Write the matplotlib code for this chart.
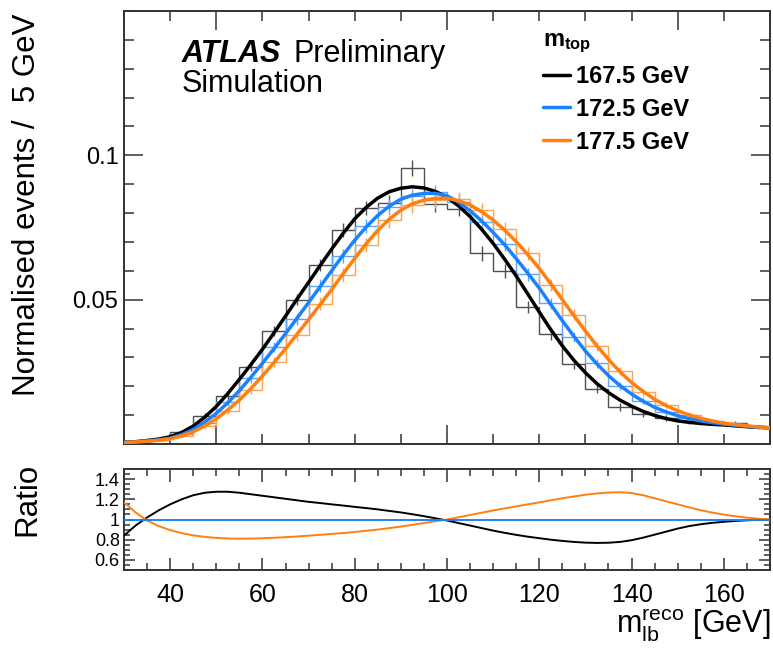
import numpy as np
import matplotlib
matplotlib.use("Agg")
import matplotlib.pyplot as plt
from matplotlib.ticker import MultipleLocator, FixedLocator

plt.rcParams['font.family'] = ['Liberation Sans', 'DejaVu Sans']
plt.rcParams['mathtext.fontset'] = 'custom'
plt.rcParams['mathtext.rm'] = 'Liberation Sans'
plt.rcParams['mathtext.it'] = 'Liberation Sans'
plt.rcParams['mathtext.bf'] = 'Liberation Sans:bold'
plt.rcParams['mathtext.default'] = 'regular'

# ---------------- data ----------------
mtop_labels = ["167.5 GeV", "172.5 GeV", "177.5 GeV"]
colors = ["#000000", "#1a82ff", "#ff7f10"]
hist_colors = ["#505050", "#5aa6ff", "#ffa24d"]

bin_edges = np.arange(30, 171, 5)
bin_centers = bin_edges[:-1] + 2.5

hist_1675 = [0.0008, 0.0017, 0.0041, 0.0098, 0.0165, 0.0268, 0.0392, 0.0500, 0.0620, 0.0740,
             0.0818, 0.0835, 0.0957, 0.0830, 0.0815, 0.0660, 0.0600, 0.0475, 0.0380, 0.0278,
             0.0192, 0.0128, 0.0104, 0.0090, 0.0078, 0.0073, 0.0072, 0.0060]
hist_1725 = [0.0007, 0.0014, 0.0033, 0.0074, 0.0145, 0.0228, 0.0335, 0.0432, 0.0548, 0.0650,
             0.0755, 0.0822, 0.0858, 0.0872, 0.0840, 0.0770, 0.0694, 0.0588, 0.0487, 0.0370,
             0.0280, 0.0200, 0.0150, 0.0110, 0.0089, 0.0074, 0.0066, 0.0058]
hist_1775 = [0.0007, 0.0013, 0.0026, 0.0062, 0.0115, 0.0188, 0.0285, 0.0376, 0.0486, 0.0585,
             0.0690, 0.0775, 0.0828, 0.0845, 0.0848, 0.0810, 0.0745, 0.0660, 0.0550, 0.0448,
             0.0338, 0.0252, 0.0180, 0.0135, 0.0100, 0.0080, 0.0068, 0.0060]
hist_err = [0.0003, 0.0004, 0.0006, 0.0009, 0.0012, 0.0015, 0.0018, 0.0020, 0.0022, 0.0024,
            0.0025, 0.0026, 0.0027, 0.0026, 0.0026, 0.0025, 0.0024, 0.0022, 0.0020, 0.0018,
            0.0016, 0.0014, 0.0012, 0.0010, 0.0009, 0.0008, 0.0008, 0.0007]

fit_x = np.arange(30, 170.01, 2.5)
fit_1675 = [0.0006, 0.0008, 0.0012, 0.0017, 0.0025, 0.0040, 0.0062, 0.0093, 0.0130, 0.0175,
            0.0224, 0.0275, 0.0328, 0.0385, 0.0443, 0.0502, 0.0560, 0.0618, 0.0675, 0.0730,
            0.0780, 0.0820, 0.0852, 0.0874, 0.0886, 0.0891, 0.0887, 0.0875, 0.0855, 0.0825,
            0.0788, 0.0744, 0.0695, 0.0640, 0.0582, 0.0520, 0.0457, 0.0396, 0.0340, 0.0290,
            0.0247, 0.0209, 0.0178, 0.0152, 0.0131, 0.0113, 0.0099, 0.0088, 0.0080, 0.0075,
            0.0071, 0.0068, 0.0066, 0.0063, 0.0060, 0.0058, 0.0056]
fit_1725 = [0.0006, 0.0007, 0.0010, 0.0014, 0.0020, 0.0032, 0.0050, 0.0076, 0.0106, 0.0143,
            0.0185, 0.0231, 0.0280, 0.0330, 0.0382, 0.0436, 0.0490, 0.0545, 0.0600, 0.0655,
            0.0706, 0.0752, 0.0792, 0.0824, 0.0848, 0.0862, 0.0868, 0.0868, 0.0860, 0.0838,
            0.0808, 0.0773, 0.0733, 0.0690, 0.0642, 0.0592, 0.0540, 0.0483, 0.0427, 0.0373,
            0.0322, 0.0277, 0.0237, 0.0202, 0.0173, 0.0148, 0.0127, 0.0111, 0.0098, 0.0088,
            0.0080, 0.0074, 0.0069, 0.0065, 0.0061, 0.0058, 0.0056]
fit_1775 = [0.0005, 0.0007, 0.0010, 0.0013, 0.0018, 0.0028, 0.0042, 0.0063, 0.0087, 0.0118,
            0.0152, 0.0192, 0.0236, 0.0282, 0.0330, 0.0380, 0.0431, 0.0483, 0.0535, 0.0590,
            0.0643, 0.0694, 0.0740, 0.0779, 0.0810, 0.0832, 0.0845, 0.0851, 0.0851, 0.0843,
            0.0828, 0.0805, 0.0776, 0.0741, 0.0701, 0.0656, 0.0608, 0.0555, 0.0500, 0.0445,
            0.0391, 0.0340, 0.0293, 0.0250, 0.0213, 0.0182, 0.0155, 0.0133, 0.0115, 0.0101,
            0.0089, 0.0080, 0.0072, 0.0067, 0.0063, 0.0059, 0.0056]

ratio_x = np.arange(30, 170.01, 2.5)
ratio_1675 = [0.84, 0.94, 1.02, 1.09, 1.15, 1.20, 1.24, 1.265, 1.275, 1.275,
              1.265, 1.25, 1.235, 1.22, 1.205, 1.19, 1.175, 1.163, 1.15, 1.138,
              1.125, 1.113, 1.10, 1.085, 1.07, 1.052, 1.033, 1.012, 0.99, 0.965,
              0.94, 0.915, 0.89, 0.868, 0.848, 0.83, 0.815, 0.80, 0.788, 0.778,
              0.771, 0.768, 0.77, 0.778, 0.795, 0.82, 0.85, 0.88, 0.91, 0.935,
              0.953, 0.967, 0.977, 0.986, 0.992, 0.997, 1.0]
ratio_1725 = [1.0] * 57
ratio_1775 = [1.17, 1.07, 0.99, 0.935, 0.895, 0.865, 0.843, 0.828, 0.818, 0.812,
              0.81, 0.811, 0.814, 0.819, 0.825, 0.832, 0.84, 0.848, 0.857, 0.866,
              0.876, 0.888, 0.90, 0.915, 0.93, 0.947, 0.965, 0.983, 1.0, 1.022,
              1.045, 1.067, 1.09, 1.11, 1.13, 1.15, 1.17, 1.19, 1.21, 1.228,
              1.245, 1.258, 1.267, 1.27, 1.262, 1.24, 1.21, 1.18, 1.15, 1.12,
              1.092, 1.068, 1.048, 1.032, 1.018, 1.008, 1.0]

hists = [hist_1675, hist_1725, hist_1775]
fits = [fit_1675, fit_1725, fit_1775]
ratios = [ratio_1675, ratio_1725, ratio_1775]

# ---------------- figure ----------------
W, H = 773, 650
fig = plt.figure(figsize=(W / 100, H / 100), dpi=100)
ax = fig.add_axes([124 / W, (H - 444) / H, 646 / W, 433 / H])
rax = fig.add_axes([124 / W, (H - 570) / H, 646 / W, 101 / H])

for i in range(3):
    ax.stairs(hists[i], bin_edges, color=hist_colors[i], lw=1.0, zorder=2 + i * 0.1)
    ax.errorbar(bin_centers, hists[i], yerr=hist_err, fmt='none', ecolor=hist_colors[i],
                elinewidth=1.0, zorder=2 + i * 0.1)
handles = []
for i in range(3):
    h, = ax.plot(fit_x, fits[i], color=colors[i], lw=2.5, zorder=5 + i, solid_capstyle='round')
    handles.append(h)

for i in range(3):
    rax.plot(ratio_x, ratios[i], color=colors[i], lw=1.4, zorder=3 + (1 if i == 1 else 0))

ax.set_xlim(30, 170)
ax.set_ylim(0, 0.15)
rax.set_xlim(30, 170)
rax.set_ylim(0.5, 1.5)

for a in (ax, rax):
    for s in a.spines.values():
        s.set_linewidth(1.4)
        s.set_color("#333333")

ax.xaxis.set_major_locator(MultipleLocator(50))
ax.xaxis.set_minor_locator(MultipleLocator(10))
ax.yaxis.set_major_locator(FixedLocator([0.05, 0.1]))
ax.yaxis.set_minor_locator(MultipleLocator(0.01))
ax.tick_params(axis='both', which='both', direction='in', top=True, right=True,
               color="#333333", width=1.1)
ax.tick_params(axis='x', which='major', length=14, labelbottom=False)
ax.tick_params(axis='x', which='minor', length=7)
ax.tick_params(axis='y', which='major', length=14, labelsize=17, pad=4)
ax.tick_params(axis='y', which='minor', length=7)
ax.set_yticklabels(["0.05", "0.1"])

rax.xaxis.set_major_locator(MultipleLocator(20))
rax.xaxis.set_minor_locator(MultipleLocator(5))
rax.yaxis.set_major_locator(FixedLocator([0.6, 0.8, 1.0, 1.2, 1.4]))
rax.yaxis.set_minor_locator(MultipleLocator(0.05))
rax.tick_params(axis='both', which='both', direction='in', top=True, right=True,
                color="#333333", width=1.1)
rax.tick_params(axis='x', which='major', length=9, labelsize=18, pad=9)
rax.tick_params(axis='x', which='minor', length=5)
rax.tick_params(axis='y', which='major', length=8, labelsize=13, pad=3)
rax.tick_params(axis='y', which='minor', length=4)
rax.set_xticks([40, 60, 80, 100, 120, 140, 160])
rax.set_xticklabels(["40", "60", "80", "100", "120", "140", "160"])
rax.set_yticklabels(["0.6", "0.8", "1", "1.2", "1.4"])

# labels
fig.text(27 / W, 1 - 14 / H, "Normalised events /  5 GeV", rotation=90, ha='center', va='top',
         fontsize=22.5)
fig.text(27 / W, 1 - 463 / H, "Ratio", rotation=90, ha='center', va='top', fontsize=22.5)
fig.text(770 / W, 1 - 634 / H, r"$\mathregular{m_{lb}^{reco}}$ [GeV]", ha='right', va='baseline',
         fontsize=22)

# ATLAS label
ax.text((182 - 124) / 646, (444 - 62) / 433, "ATLAS", transform=ax.transAxes,
        fontsize=22, fontweight='bold', fontstyle='italic', ha='left', va='baseline')
ax.text((294 - 124) / 646, (444 - 62) / 433, "Preliminary", transform=ax.transAxes,
        fontsize=22, ha='left', va='baseline')
ax.text((182 - 124) / 646, (444 - 92) / 433, "Simulation", transform=ax.transAxes,
        fontsize=22, ha='left', va='baseline')

# legend
leg = ax.legend(handles, mtop_labels, loc='upper left',
                bbox_to_anchor=((543 - 124) / 646, (444 - 28) / 433),
                frameon=False, handlelength=1.15, handletextpad=0.25, labelspacing=0.42,
                borderpad=0, borderaxespad=0,
                prop={'size': 17, 'weight': 'bold'},
                title=r"$\mathbf{m_{top}}$", title_fontproperties={'size': 17, 'weight': 'bold'},
                alignment='left')
for lh in leg.get_lines():
    lh.set_linewidth(2.5)

fig.savefig("out.png", dpi=100)
